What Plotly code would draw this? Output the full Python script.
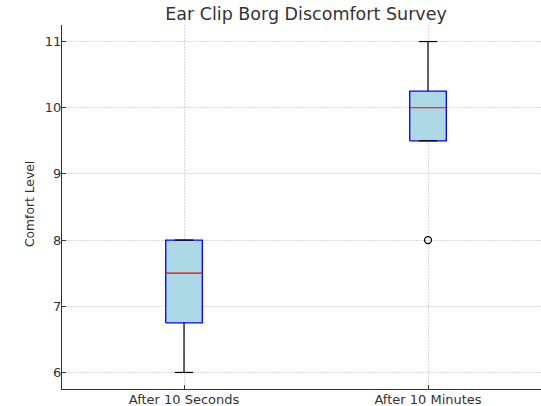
import plotly.graph_objects as go

categories = ["After 10 Seconds", "After 10 Minutes"]
positions = [1, 2]
q1 = [6.75, 9.5]
median = [7.5, 10.0]
q3 = [8.0, 10.25]
whisker_low = [6.0, 9.5]
whisker_high = [8.0, 11.0]
outlier_pos = [2]
outlier_vals = [8.0]
y_ticks = [6, 7, 8, 9, 10, 11]

box_w = 0.15
cap_half = box_w / 4
half = box_w / 2

fig = go.Figure()

# box bodies
for p, a, b in zip(positions, q1, q3):
    fig.add_trace(go.Scatter(
        x=[p - half, p + half, p + half, p - half, p - half],
        y=[a, a, b, b, a], mode="lines", fill="toself", fillcolor="lightblue",
        line=dict(color="blue", width=1.3), showlegend=False, hoverinfo="skip"))

wx, wy = [], []
for p, lo, a, b, hi in zip(positions, whisker_low, q1, q3, whisker_high):
    wx += [p, p, None, p, p, None]
    wy += [lo, a, None, b, hi, None]
fig.add_trace(go.Scatter(x=wx, y=wy, mode="lines", line=dict(color="black", width=1.2),
                         showlegend=False, hoverinfo="skip"))

cx, cy = [], []
for p, lo, hi in zip(positions, whisker_low, whisker_high):
    cx += [p - cap_half, p + cap_half, None, p - cap_half, p + cap_half, None]
    cy += [lo, lo, None, hi, hi, None]
fig.add_trace(go.Scatter(x=cx, y=cy, mode="lines", line=dict(color="black", width=1.2),
                         showlegend=False, hoverinfo="skip"))

mx, my = [], []
for p, m in zip(positions, median):
    mx += [p - half, p + half, None]
    my += [m, m, None]
fig.add_trace(go.Scatter(x=mx, y=my, mode="lines", line=dict(color="red", width=1.2),
                         showlegend=False, hoverinfo="skip"))

fig.add_trace(go.Scatter(x=outlier_pos, y=outlier_vals, mode="markers",
                         marker=dict(symbol="circle-open", color="black", size=7,
                                     line=dict(width=1.3, color="black")),
                         showlegend=False, hoverinfo="skip"))

font_fam = "DejaVu Sans"
fig.update_layout(
    width=541, height=406,
    margin=dict(l=62, r=0, t=25, b=17, autoexpand=False),
    paper_bgcolor="white", plot_bgcolor="white",
    font=dict(family=font_fam, color="#333333", size=13),
    title=dict(text="Ear Clip Borg Discomfort Survey", font=dict(size=17.5, color="#333333"),
               x=306 / 541, xref="container", xanchor="center",
               y=1 - 14 / 406, yref="container", yanchor="middle"),
    annotations=[dict(text="Comfort Level", textangle=-90, showarrow=False,
                      xref="paper", yref="paper", x=(30 - 62) / 479, y=(389 - 204) / 364,
                      xanchor="center", yanchor="middle", font=dict(size=12.3, color="#333333"))],
)
grid_kw = dict(showgrid=True, gridcolor="#d8d8d8", griddash="2px,1px", gridwidth=0.7)
fig.update_xaxes(
    range=[0.5, 2.463], tickvals=positions, ticktext=categories,
    showline=True, linecolor="#333333", linewidth=1.2,
    ticks="inside", ticklen=3.5, tickcolor="#333333",
    zeroline=False, automargin=False, ticklabelstandoff=-2, **grid_kw,
)
fig.update_yaxes(
    range=[5.75, 11.25], tickvals=y_ticks,
    showline=True, linecolor="#333333", linewidth=1.2,
    ticks="inside", ticklen=3.5, tickcolor="#333333",
    zeroline=False, automargin=False, ticklabelstandoff=-3, **grid_kw,
)

fig.write_html("out.html", config={"displayModeBar": False},
               post_script="document.body.style.margin='0';")
